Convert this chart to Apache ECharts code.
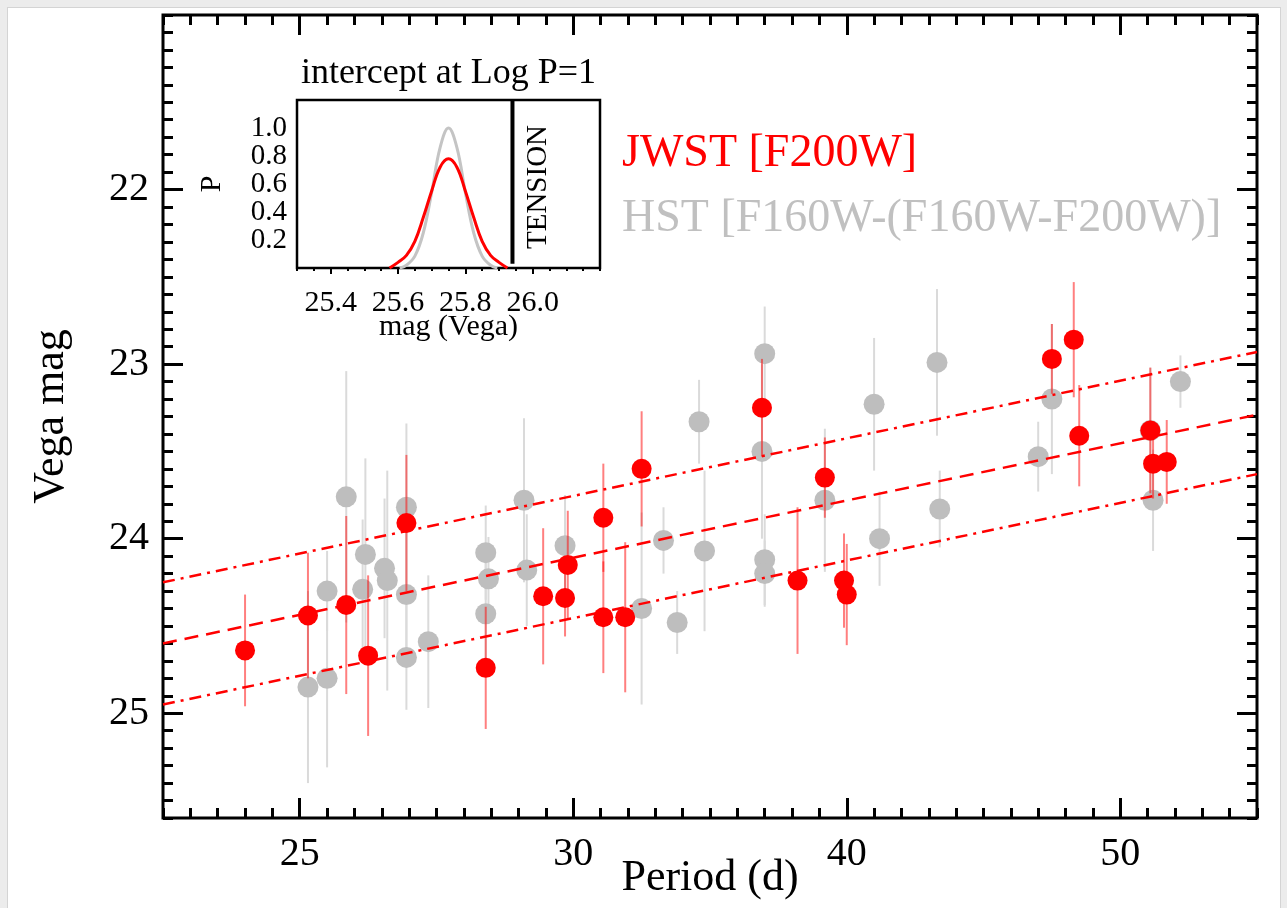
<!DOCTYPE html>
<html>
<head>
<meta charset="utf-8">
<script src="https://cdn.jsdelivr.net/npm/echarts@6/dist/echarts.min.js"></script>
<style>
  html, body { margin: 0; padding: 0; background: #ececec; }
  #panel { position: absolute; left: 7px; top: 7px; width: 1272px; height: 901px; background: #fff;
           border-left: 1px solid #d4d4d4; border-top: 1px solid #d4d4d4; border-right: 1px solid #d4d4d4; }
  #chart { position: absolute; left: 0; top: 0; width: 1287px; height: 908px; }
</style>
</head>
<body>
<div id="panel"></div>
<div id="chart"></div>
<script>
// --- main panel: log10(P) vs Vega mag ---
const jwstLogP = [1.380, 1.403, 1.417, 1.425, 1.439, 1.468, 1.489, 1.497, 1.498, 1.511, 1.511, 1.519,
                  1.525, 1.569, 1.582, 1.592, 1.599, 1.600, 1.675, 1.683, 1.685, 1.711, 1.712, 1.717]
const jwstMag = [24.64, 24.44, 24.38, 24.67, 23.91, 24.74, 24.33, 24.34, 24.15, 23.88, 24.45, 24.45,
                 23.60, 23.25, 24.24, 23.65, 24.24, 24.32, 22.97, 22.86, 23.41, 23.38, 23.57, 23.56]
const jwstErr = [0.32, 0.36, 0.51, 0.46, 0.39, 0.35, 0.39, 0.22, 0.31, 0.31, 0.32, 0.43,
                 0.33, 0.28, 0.42, 0.23, 0.27, 0.29, 0.20, 0.33, 0.29, 0.36, 0.20, 0.24]

const hstLogP = [1.417, 1.410, 1.403, 1.410, 1.424, 1.423, 1.431, 1.432, 1.439, 1.439, 1.439, 1.447,
                 1.468, 1.469, 1.468, 1.482, 1.483, 1.497, 1.525, 1.533, 1.538, 1.546, 1.548, 1.570,
                 1.569, 1.570, 1.570, 1.592, 1.610, 1.612, 1.633, 1.634, 1.670, 1.675, 1.711, 1.712, 1.722]
const hstMag = [23.76, 24.30, 24.85, 24.80, 24.09, 24.29, 24.17, 24.24, 23.82, 24.32, 24.68, 24.59,
                24.08, 24.23, 24.43, 23.78, 24.18, 24.04, 24.40, 24.01, 24.48, 23.33, 24.07, 22.94,
                23.50, 24.12, 24.20, 23.78, 23.23, 24.00, 22.99, 23.83, 23.53, 23.20, 23.38, 23.78, 23.10]
const hstErr = [0.72, 0.23, 0.55, 0.51, 0.55, 0.40, 0.40, 0.63, 0.48, 0.40, 0.30, 0.38,
                0.27, 0.24, 0.30, 0.47, 0.32, 0.29, 0.55, 0.19, 0.18, 0.24, 0.46, 0.27,
                0.50, 0.26, 0.19, 0.41, 0.38, 0.27, 0.42, 0.22, 0.20, 0.43, 0.36, 0.29, 0.15]

// PL fit and its scatter band, at the two edges of the plot
const fitLogP = [1.35, 1.75]
const fitMid = [24.60, 23.29]
const fitUpper = [24.25, 22.93]
const fitLower = [24.95, 23.63]

// x axis is log P, labelled with rounded periods
const xTickLogP = [1.4, 1.5, 1.6, 1.7]
const xTickLabels = ['25', '30', '40', '50']
const yTicks = [22, 23, 24, 25]

// --- inset: intercept at log P = 1 ---
const insetRedMag = [25.575, 25.600, 25.625, 25.650, 25.675, 25.700, 25.725, 25.750,
                     25.775, 25.800, 25.825, 25.850, 25.875, 25.900, 25.925]
const insetRedP = [0.00, 0.04, 0.09, 0.19, 0.36, 0.55, 0.72, 0.78, 0.72, 0.55, 0.36, 0.19, 0.09, 0.04, 0.00]
const insetGrayMag = [25.605, 25.625, 25.650, 25.675, 25.700, 25.725, 25.750,
                      25.775, 25.800, 25.825, 25.850, 25.875, 25.895]
const insetGrayP = [0.00, 0.02, 0.085, 0.25, 0.54, 0.86, 1.00, 0.86, 0.54, 0.25, 0.085, 0.02, 0.00]
const tensionMag = 25.94
const tensionP = [0.03, 1.2]
const insetXTicks = [25.4, 25.6, 25.8, 26.0]
const insetYTicks = [0.2, 0.4, 0.6, 0.8, 1.0]

const SERIF = '"Liberation Serif", "Times New Roman", "DejaVu Serif", serif'
const RED = '#ff0000'
const GRAY = '#bebebe'

function steps(from, to, step) {
  const out = []
  const n = Math.round((to - from) / step)
  for (let i = 0; i <= n; i++) out.push(+(from + i * step).toFixed(4))
  return out
}

function tickAxis(o) {
  const ax = {
    type: 'value',
    gridIndex: o.grid,
    position: o.position,
    min: o.min,
    max: o.max,
    inverse: !!o.inverse,
    axisLine: { show: false },
    splitLine: { show: false },
    axisTick: {
      show: true, inside: true, length: o.len, customValues: o.ticks,
      lineStyle: { color: '#000', width: o.width }
    },
    axisLabel: { show: false }
  }
  if (o.labels) {
    ax.axisLabel = {
      show: true, customValues: o.labels, formatter: o.formatter, interval: 0,
      hideOverlap: false, showMinLabel: true, showMaxLabel: true,
      fontFamily: SERIF, fontSize: o.fontSize, lineHeight: o.lineHeight || o.fontSize,
      color: '#000', margin: o.margin
    }
  }
  if (o.name) {
    ax.name = o.name
    ax.nameLocation = 'middle'
    ax.nameGap = o.nameGap
    ax.nameRotate = o.nameRotate
    ax.nameMoveOverlap = false
    ax.nameTextStyle = { fontFamily: SERIF, fontSize: o.nameSize, color: '#000' }
  }
  return ax
}

function xLabel(v) {
  const i = xTickLogP.findIndex(t => Math.abs(t - v) < 1e-6)
  return i >= 0 ? xTickLabels[i] : ''
}

function errorBars(logP, mag, err, color, width, z) {
  return {
    type: 'custom',
    xAxisIndex: 0, yAxisIndex: 0,
    silent: true, z: z, clip: true,
    data: logP.map((x, i) => [x, mag[i] - err[i], mag[i] + err[i]]),
    encode: { x: 0, y: [1, 2] },
    renderItem: (params, api) => {
      const a = api.coord([api.value(0), api.value(1)])
      const b = api.coord([api.value(0), api.value(2)])
      return {
        type: 'line',
        shape: { x1: a[0], y1: a[1], x2: b[0], y2: b[1] },
        style: { stroke: color, lineWidth: width }
      }
    }
  }
}

function fitLine(vals, dash) {
  return {
    type: 'line', xAxisIndex: 0, yAxisIndex: 0, z: 8, silent: true,
    showSymbol: false, symbol: 'none',
    data: fitLogP.map((x, i) => [x, vals[i]]),
    lineStyle: { color: RED, width: 2.5, type: dash }
  }
}

const mainMinorX = steps(1.35, 1.75, 0.01)
const mainMinorY = steps(21.0, 25.6, 0.1)
const insetMinorX = steps(25.3, 26.2, 0.05)
const insetMinorY = steps(0, 1.2, 0.05)
// inset y labels are packed tightly; split them over two axes so none get dropped
const insetYLabelsA = insetYTicks.filter((v, i) => i % 2 === 0)
const insetYLabelsB = insetYTicks.filter((v, i) => i % 2 === 1)

const xAxes = [
  tickAxis({ grid: 0, position: 'bottom', min: 1.35, max: 1.75, len: 20, width: 3, ticks: xTickLogP,
             labels: xTickLogP, formatter: xLabel, fontSize: 40, margin: 16,
             name: 'Period (d)', nameGap: 38, nameSize: 44 }),
  tickAxis({ grid: 0, position: 'bottom', min: 1.35, max: 1.75, len: 10, width: 3, ticks: mainMinorX }),
  tickAxis({ grid: 0, position: 'top', min: 1.35, max: 1.75, len: 20, width: 3, ticks: xTickLogP }),
  tickAxis({ grid: 0, position: 'top', min: 1.35, max: 1.75, len: 10, width: 3, ticks: mainMinorX }),
  tickAxis({ grid: 1, position: 'bottom', min: 25.3, max: 26.2, len: 6, width: 2, ticks: insetXTicks,
             labels: insetXTicks, formatter: v => v.toFixed(1), fontSize: 30, margin: 20,
             name: 'mag (Vega)', nameGap: 44, nameSize: 30 }),
  tickAxis({ grid: 1, position: 'bottom', min: 25.3, max: 26.2, len: 3, width: 2, ticks: insetMinorX }),
  tickAxis({ grid: 1, position: 'top', min: 25.3, max: 26.2, len: 6, width: 2, ticks: insetXTicks,
             name: 'intercept at Log P=1', nameGap: 8, nameSize: 36 }),
  tickAxis({ grid: 1, position: 'top', min: 25.3, max: 26.2, len: 3, width: 2, ticks: insetMinorX })
]

const yAxes = [
  tickAxis({ grid: 0, position: 'left', min: 21.0, max: 25.6, inverse: true, len: 20, width: 3, ticks: yTicks,
             labels: yTicks, formatter: v => String(v), fontSize: 40, margin: 14,
             name: 'Vega mag', nameGap: 90, nameRotate: 90, nameSize: 44 }),
  tickAxis({ grid: 0, position: 'left', min: 21.0, max: 25.6, inverse: true, len: 10, width: 3, ticks: mainMinorY }),
  tickAxis({ grid: 0, position: 'right', min: 21.0, max: 25.6, inverse: true, len: 20, width: 3, ticks: yTicks }),
  tickAxis({ grid: 0, position: 'right', min: 21.0, max: 25.6, inverse: true, len: 10, width: 3, ticks: mainMinorY }),
  tickAxis({ grid: 1, position: 'left', min: 0, max: 1.2, len: 6, width: 2, ticks: insetYTicks,
             labels: insetYLabelsA, formatter: v => v.toFixed(1), fontSize: 29, margin: 10,
             name: 'P', nameGap: 70, nameRotate: 90, nameSize: 30 }),
  tickAxis({ grid: 1, position: 'left', min: 0, max: 1.2, len: 3, width: 2, ticks: insetMinorY,
             labels: insetYLabelsB, formatter: v => v.toFixed(1), fontSize: 29, margin: 10 }),
  tickAxis({ grid: 1, position: 'right', min: 0, max: 1.2, len: 6, width: 2, ticks: insetYTicks }),
  tickAxis({ grid: 1, position: 'right', min: 0, max: 1.2, len: 3, width: 2, ticks: insetMinorY })
]

const chart = echarts.init(document.getElementById('chart'), null, { renderer: 'canvas' })

chart.setOption({
  animation: false,
  backgroundColor: 'transparent',
  grid: [
    { left: 163, top: 15, width: 1094, height: 803, show: true, backgroundColor: '#fff',
      borderColor: '#000', borderWidth: 3, outerBoundsMode: 'none' },
    { left: 297, top: 100, width: 303, height: 168, show: true, backgroundColor: '#fff',
      borderColor: '#000', borderWidth: 2.5, outerBoundsMode: 'none', z: 3 }
  ],
  xAxis: xAxes,
  yAxis: yAxes,
  series: [
    errorBars(hstLogP, hstMag, hstErr, '#dadada', 2, 2),
    {
      type: 'scatter', xAxisIndex: 0, yAxisIndex: 0, z: 3, silent: true,
      symbol: 'circle', symbolSize: 21,
      data: hstLogP.map((x, i) => [x, hstMag[i]]),
      itemStyle: { color: GRAY, opacity: 1 }
    },
    errorBars(jwstLogP, jwstMag, jwstErr, 'rgba(255,0,0,0.5)', 2, 4),
    {
      type: 'scatter', xAxisIndex: 0, yAxisIndex: 0, z: 5, silent: true,
      symbol: 'circle', symbolSize: 20,
      data: jwstLogP.map((x, i) => [x, jwstMag[i]]),
      itemStyle: { color: RED, opacity: 1 }
    },
    fitLine(fitMid, [14, 8]),
    fitLine(fitUpper, [12, 6, 3, 6]),
    fitLine(fitLower, [12, 6, 3, 6]),
    // inset
    {
      type: 'line', xAxisIndex: 4, yAxisIndex: 4, z: 6, silent: true, smooth: 0.4,
      showSymbol: false, symbol: 'none',
      data: insetGrayMag.map((x, i) => [x, insetGrayP[i]]),
      lineStyle: { color: '#c4c4c4', width: 3 }
    },
    {
      type: 'line', xAxisIndex: 4, yAxisIndex: 4, z: 7, silent: true, smooth: 0.4,
      showSymbol: false, symbol: 'none',
      data: insetRedMag.map((x, i) => [x, insetRedP[i]]),
      lineStyle: { color: RED, width: 3 }
    },
    {
      type: 'line', xAxisIndex: 4, yAxisIndex: 4, z: 7, silent: true,
      showSymbol: false, symbol: 'none',
      data: tensionP.map(p => [tensionMag, p]),
      lineStyle: { color: '#000', width: 4 }
    }
  ],
  graphic: [
    { type: 'text', left: 622, top: 131, z: 10,
      style: { text: 'JWST [F200W]', fill: RED, font: '46px ' + SERIF } },
    { type: 'text', left: 622, top: 196, z: 10,
      style: { text: 'HST [F160W-(F160W-F200W)]', fill: '#c0c0c0', font: '46px ' + SERIF } },
    { type: 'text', x: 538, y: 187, rotation: Math.PI / 2, z: 10,
      style: { text: 'TENSION', fill: '#000', font: '29px ' + SERIF, align: 'center', verticalAlign: 'middle' } }
  ]
})
</script>
</body>
</html>
